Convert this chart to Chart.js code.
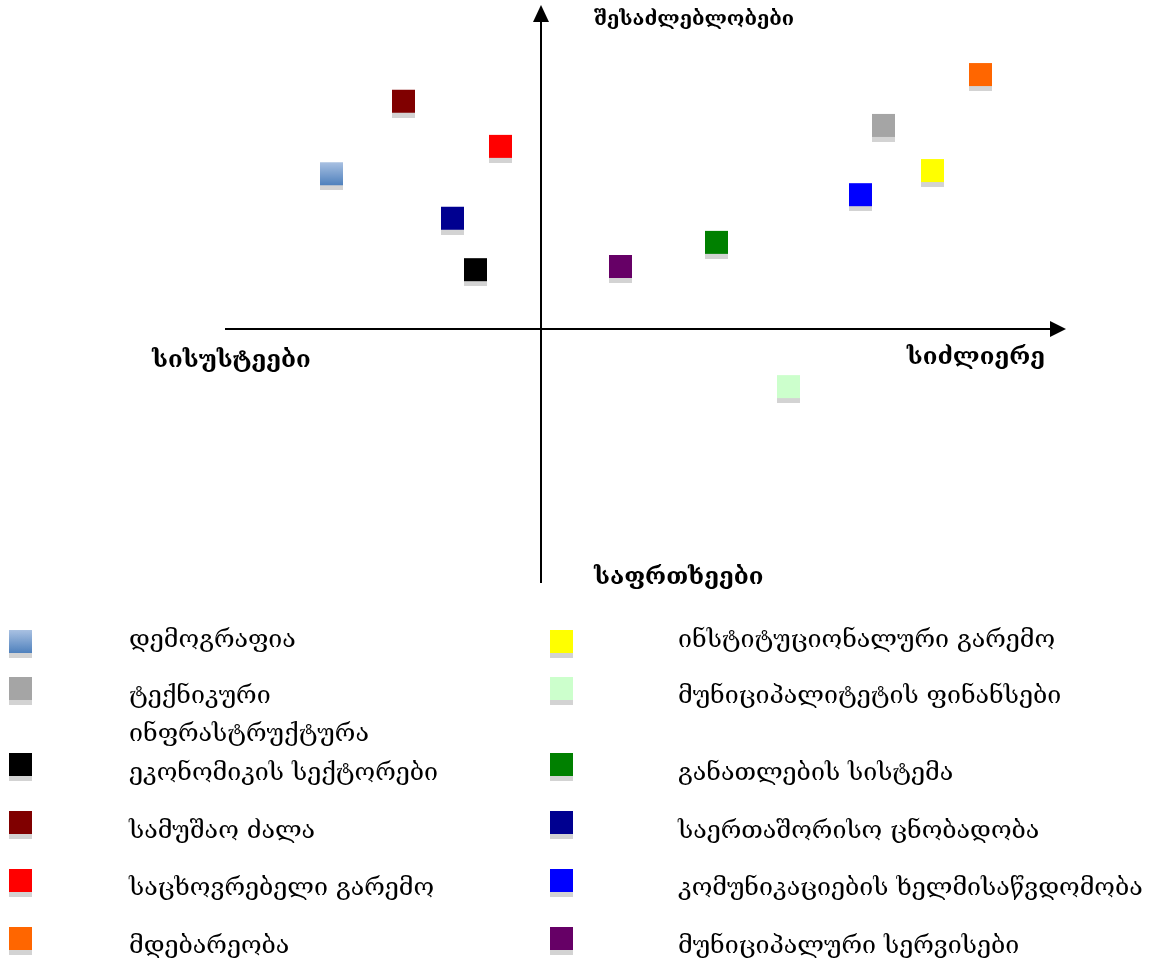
<!DOCTYPE html>
<html>
<head>
<meta charset="utf-8">
<script src="https://cdn.jsdelivr.net/npm/chart.js@4/dist/chart.umd.min.js"></script>
<style>
html,body{margin:0;padding:0;background:#fff;}
#wrap{width:1173px;height:968px;position:relative;}
</style>
</head>
<body>
<div id="wrap"><canvas id="c" width="1173" height="968"></canvas></div>
<script>
// ---- data ----
const categories = [
  'დემოგრაფია',
  'ტექნიკური ინფრასტრუქტურა',
  'ეკონომიკის სექტორები',
  'სამუშაო ძალა',
  'საცხოვრებელი გარემო',
  'მდებარეობა',
  'ინსტიტუციონალური გარემო',
  'მუნიციპალიტეტის ფინანსები',
  'განათლების სისტემა',
  'საერთაშორისო ცნობადობა',
  'კომუნიკაციების ხელმისაწვდომობა',
  'მუნიციპალური სერვისები'
];
const xValues = [-3.99, 6.52, -1.25, -2.62, -0.77, 8.37, 7.46, 4.71, 3.34, -1.69, 6.09, 1.51];
const yValues = [2.44, 3.20, 0.93, 3.58, 2.87, 4.00, 2.49, -0.91, 1.36, 1.74, 2.11, 0.98];
const colors = ['#4f81bd', '#a5a5a5', '#000000', '#800000', '#ff0000', '#ff6600',
                '#ffff00', '#ccffcc', '#008000', '#000090', '#0000ff', '#660066'];
const gradientTops = ['#a9c1e2', null, null, null, null, null, null, null, null, null, null, null];
const axisLabels = {top: 'შესაძლებლობები', bottom: 'საფრთხეები', left: 'სისუსტეები', right: 'სიძლიერე'};

// ---- marker images ----
const SQ = 23, SH = 5;
function makeMarker(col, top) {
  const cv = document.createElement('canvas');
  cv.width = SQ; cv.height = SQ + 2 * SH;
  const g = cv.getContext('2d');
  g.fillStyle = '#d3d3d3';
  g.fillRect(0, SH + SQ, SQ, SH);
  if (top) {
    const gr = g.createLinearGradient(0, SH, 0, SH + SQ);
    gr.addColorStop(0, top); gr.addColorStop(1, col);
    g.fillStyle = gr;
  } else g.fillStyle = col;
  g.fillRect(0, SH, SQ, SQ);
  return cv;
}
const markers = colors.map((c, i) => makeMarker(c, gradientTops[i]));

const datasets = categories.map((name, i) => ({
  label: name,
  data: [{x: xValues[i], y: yValues[i]}],
  pointStyle: markers[i],
  pointRadius: 12,
  backgroundColor: colors[i],
  borderColor: colors[i]
}));

const FONT = '"DejaVu Serif", serif';

const axesPlugin = {
  id: 'quadAxes',
  beforeDatasetsDraw(chart) {
    const ctx = chart.ctx, a = chart.chartArea;
    const x0 = Math.round(chart.scales.x.getPixelForValue(0));
    const y0 = Math.round(chart.scales.y.getPixelForValue(0));
    ctx.save();
    ctx.strokeStyle = '#000'; ctx.fillStyle = '#000'; ctx.lineWidth = 2;
    // horizontal
    ctx.beginPath(); ctx.moveTo(a.left - 1, y0); ctx.lineTo(a.right - 10, y0); ctx.stroke();
    ctx.beginPath(); ctx.moveTo(a.right, y0); ctx.lineTo(a.right - 16, y0 - 8); ctx.lineTo(a.right - 16, y0 + 8); ctx.closePath(); ctx.fill();
    // vertical
    ctx.beginPath(); ctx.moveTo(x0, a.bottom); ctx.lineTo(x0, a.top + 4); ctx.stroke();
    ctx.beginPath(); ctx.moveTo(x0, a.top - 6); ctx.lineTo(x0 - 8, a.top + 11); ctx.lineTo(x0 + 8, a.top + 11); ctx.closePath(); ctx.fill();
    // labels
    ctx.textBaseline = 'middle';
    ctx.textAlign = 'left';
    ctx.font = 'bold 20px ' + FONT;
    ctx.fillText(axisLabels.top, 594, 20);
    ctx.font = 'bold 24px ' + FONT;
    ctx.fillText(axisLabels.bottom, 594, 578);
    ctx.fillText(axisLabels.left, 152, 361);
    ctx.textAlign = 'right';
    ctx.fillText(axisLabels.right, 1045, 358);
    ctx.restore();
  },
  afterDraw(chart) {
    const ctx = chart.ctx;
    const rowBox = [630, 677, 753, 811, 869, 927];
    const rowText = [[640], [696, 734], [773], [831], [888], [946]];
    const colBoxX = [9, 550], colTextX = [129, 678];
    ctx.save();
    ctx.font = '25px ' + FONT;
    ctx.textBaseline = 'middle';
    ctx.textAlign = 'left';
    ctx.fillStyle = '#000';
    chart.data.datasets.forEach((ds, i) => {
      const col = i < 6 ? 0 : 1, r = i % 6;
      ctx.drawImage(markers[i], colBoxX[col], rowBox[r] - SH);
      const words = ds.label.split(' ');
      let lines = [ds.label];
      if (col === 0 && ctx.measureText(ds.label).width > 380) lines = [words[0], words.slice(1).join(' ')];
      lines.forEach((ln, k) => {
        const y = rowText[r][k] !== undefined ? rowText[r][k] : rowText[r][0] + 38 * k;
        ctx.fillText(ln, colTextX[col], y);
      });
    });
    ctx.restore();
  }
};

new Chart(document.getElementById('c'), {
  type: 'scatter',
  data: {datasets},
  options: {
    responsive: false,
    animation: false,
    layout: {autoPadding: false, padding: {left: 226, right: 107, top: 11, bottom: 385}},
    scales: {
      x: {display: false, min: -6, max: 10},
      y: {display: false, min: -4, max: 5}
    },
    plugins: {legend: {display: false}, tooltip: {enabled: false}}
  },
  plugins: [axesPlugin]
});
</script>
</body>
</html>
